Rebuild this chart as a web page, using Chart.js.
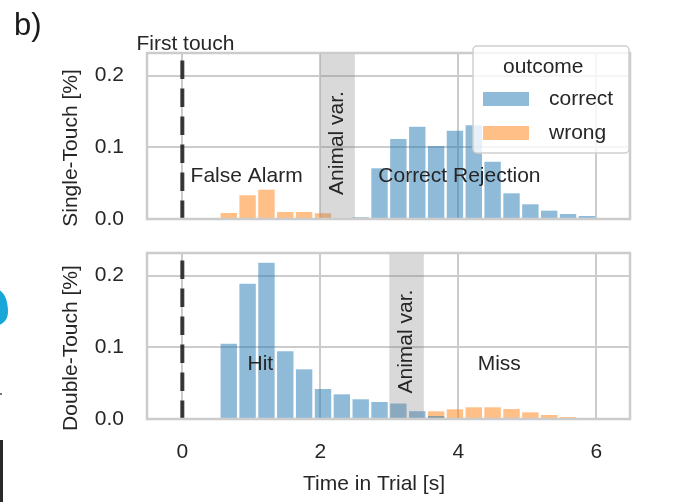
<!DOCTYPE html>
<html>
<head>
<meta charset="utf-8">
<script src="https://cdn.jsdelivr.net/npm/chart.js@4/dist/chart.umd.min.js"></script>
<style>
  html, body { margin: 0; padding: 0; background: #fff; }
  #wrap { position: relative; width: 679px; height: 502px; overflow: hidden; background: #fff; }
  #wrap canvas { position: absolute; left: 0; top: 0; }
  .tag { position: absolute; left: 14px; top: 9px; font: 31px/31px "Liberation Sans", Arial, sans-serif; color: #1a1a1a; }
  .blob { position: absolute; left: -13px; top: 290px; width: 21px; height: 35px; background: #19a6d8;
          border-radius: 50% 50% 50% 50% / 62% 62% 38% 38%; }
  .dot { position: absolute; left: 0; top: 393px; width: 2px; height: 2px; background: #777; }
  .edge { position: absolute; left: 0; top: 440px; width: 3px; height: 62px; background: #2a2a2a; }
</style>
</head>
<body>
<div id="wrap">
  <canvas id="single" width="679" height="502"></canvas>
  <canvas id="double" width="679" height="502"></canvas>
  <div class="tag">b)</div>
  <div class="blob"></div>
  <div class="dot"></div>
  <div class="edge"></div>
</div>
<script>
// Bin centres of the trial-time histogram [s], shared by both panels
const binCenters = [0.673, 0.946, 1.219, 1.492, 1.765, 2.039, 2.312, 2.585, 2.858, 3.131,
                    3.405, 3.678, 3.951, 4.224, 4.497, 4.771, 5.044, 5.317, 5.590, 5.863];

// Single-touch trials
const singleCorrect = [0, 0, 0, 0, 0, 0, 0, 0.0024, 0.0707, 0.1116,
                       0.1287, 0.1018, 0.1232, 0.1307, 0.0799, 0.0358, 0.0205, 0.0116, 0.0070, 0.0042];
const singleWrong   = [0.0084, 0.0331, 0.0409, 0.0098, 0.0098, 0.0080, 0, 0, 0, 0,
                       0, 0, 0, 0, 0, 0, 0, 0, 0, 0];

// Double-touch trials
const doubleCorrect = [0.105, 0.1887, 0.218, 0.0944, 0.0693, 0.0418, 0.0344, 0.0275, 0.0237, 0.0216,
                       0.0109, 0.0042, 0, 0, 0, 0, 0, 0, 0, 0];
const doubleWrong   = [0, 0, 0, 0, 0, 0, 0, 0, 0, 0,
                       0, 0.0107, 0.0135, 0.0163, 0.0163, 0.0139, 0.0093, 0.0056, 0.0028, 0.0014];

const outcomes = ['correct', 'wrong'];
const xTickValues = [0, 2, 4, 6];
const yTickValues = [0, 0.1, 0.2];
const yTickLabels = ['0.0', '0.1', '0.2'];

const singleBand = [2.0, 2.5];   // animal variability window, single touch
const doubleBand = [3.0, 3.5];   // animal variability window, double touch

const FONT_FAMILY = '"Liberation Sans", Arial, sans-serif';
const FONT_SIZE = 21;
const TEXT = '#262626';
const GRID = '#cccccc';
const BLUE = 'rgba(31,119,180,0.5)';
const ORANGE = 'rgba(255,127,14,0.5)';

Chart.defaults.font.family = FONT_FAMILY;
Chart.defaults.font.size = FONT_SIZE;
Chart.defaults.color = TEXT;

const toPoints = vals => binCenters.map((c, i) => ({ x: c, y: vals[i] }));

// Shaded window, first-touch marker, frame, axis titles and text notes
const decor = {
  id: 'decor',
  afterDatasetsDraw(chart, args, o) {
    const { ctx, chartArea: a, scales: { x, y } } = chart;
    ctx.save();
    const b0 = x.getPixelForValue(o.band[0]);
    const b1 = x.getPixelForValue(o.band[1]);
    ctx.fillStyle = 'rgba(128,128,128,0.3)';
    ctx.fillRect(b0, a.top, b1 - b0, a.bottom - a.top);

    const x0 = x.getPixelForValue(0);
    ctx.strokeStyle = 'rgba(25,25,25,0.85)';
    ctx.lineWidth = 4;
    ctx.setLineDash([18.5, 9.5]);
    ctx.beginPath();
    ctx.moveTo(x0, a.bottom);
    ctx.lineTo(x0, a.top);
    ctx.stroke();
    ctx.setLineDash([]);

    ctx.strokeStyle = GRID;
    ctx.lineWidth = 2.5;
    ctx.strokeRect(a.left, a.top, a.right - a.left, a.bottom - a.top);

    ctx.fillStyle = TEXT;
    ctx.font = FONT_SIZE + 'px ' + FONT_FAMILY;
    ctx.textAlign = 'left';
    ctx.textBaseline = 'alphabetic';
    for (const n of o.notes) {
      ctx.fillText(n.text, x.getPixelForValue(n.x), y.getPixelForValue(n.y));
    }
    ctx.textAlign = 'center';
    ctx.textBaseline = 'middle';
    if (o.xTitle) {
      ctx.fillText(o.xTitle, a.left + 227, a.bottom + 65);
    }
    // y-axis title, rotated
    ctx.save();
    ctx.translate(a.left - 76, (a.top + a.bottom) / 2 + 12);
    ctx.rotate(-Math.PI / 2);
    ctx.fillText(o.yTitle, 0, 0);
    ctx.restore();
    // label of the shaded window
    ctx.translate((b0 + b1) / 2, y.getPixelForValue(o.bandLabelY));
    ctx.rotate(-Math.PI / 2);
    ctx.fillText('Animal var.', 0, 0);
    ctx.restore();
  },
  afterDraw(chart, args, o) {
    if (!o.legend) return;
    const { ctx, chartArea: a } = chart;
    const w = 156, h = 107;
    const left = a.right - w - 1, top = a.top - 7;
    ctx.save();
    ctx.fillStyle = 'rgba(255,255,255,0.8)';
    ctx.strokeStyle = '#cfcfcf';
    ctx.lineWidth = 1.5;
    ctx.beginPath();
    ctx.roundRect(left, top, w, h, 4);
    ctx.fill();
    ctx.stroke();
    ctx.font = FONT_SIZE + 'px ' + FONT_FAMILY;
    ctx.fillStyle = TEXT;
    ctx.textAlign = 'left';
    ctx.textBaseline = 'alphabetic';
    ctx.fillText('outcome', left + 30, top + 27);
    chart.data.datasets.forEach((ds, i) => {
      const py = top + 46 + i * 34;
      ctx.fillStyle = ds.backgroundColor;
      ctx.fillRect(left + 10, py, 46, 14);
      ctx.fillStyle = TEXT;
      ctx.textBaseline = 'middle';
      ctx.fillText(ds.label, left + 76, py + 7);
    });
    ctx.restore();
  }
};

function panelOptions(opts) {
  return {
    responsive: false,
    animation: false,
    devicePixelRatio: 1,
    layout: { padding: opts.padding },
    datasets: { bar: { grouped: false, categoryPercentage: 1, barPercentage: 0.87 } },
    plugins: {
      legend: { display: false },
      tooltip: { enabled: false },
      decor: opts.decor
    },
    scales: {
      x: {
        type: 'linear',
        offset: false,
        min: -0.512,
        max: 6.488,
        afterBuildTicks: s => { s.ticks = xTickValues.map(v => ({ value: v })); },
        ticks: { display: opts.showX, padding: 21, color: TEXT, callback: v => String(v) },
        grid: { color: GRID, lineWidth: 2, drawTicks: false, offset: false },
        border: { display: false },
        afterFit: s => { s.height = opts.xHeight; }
      },
      y: {
        type: 'linear',
        min: 0,
        max: 0.2315,
        afterBuildTicks: s => { s.ticks = yTickValues.map(v => ({ value: v })); },
        ticks: { padding: 23, color: TEXT, callback: (v, i) => yTickLabels[i] },
        grid: { color: GRID, lineWidth: 2, drawTicks: false },
        border: { display: false },
        afterFit: s => { s.width = 147; }
      }
    }
  };
}

new Chart(document.getElementById('single'), {
  type: 'bar',
  data: {
    datasets: [
      { label: outcomes[0], data: toPoints(singleCorrect), backgroundColor: BLUE },
      { label: outcomes[1], data: toPoints(singleWrong), backgroundColor: ORANGE }
    ]
  },
  options: panelOptions({
    padding: { left: 0, right: 49, top: 53, bottom: 283 },
    showX: false,
    xHeight: 0,
    decor: {
      band: singleBand,
      bandLabelY: 0.106,
      legend: true,
      yTitle: 'Single-Touch [%]',
      notes: [
        { text: 'First touch', x: -0.665, y: 0.2357 },
        { text: 'False Alarm', x: 0.12, y: 0.052 },
        { text: 'Correct Rejection', x: 2.84, y: 0.052 }
      ]
    }
  }),
  plugins: [decor]
});

new Chart(document.getElementById('double'), {
  type: 'bar',
  data: {
    datasets: [
      { label: outcomes[0], data: toPoints(doubleCorrect), backgroundColor: BLUE },
      { label: outcomes[1], data: toPoints(doubleWrong), backgroundColor: ORANGE }
    ]
  },
  options: panelOptions({
    padding: { left: 0, right: 49, top: 253, bottom: 0 },
    showX: true,
    xHeight: 83,
    decor: {
      band: doubleBand,
      bandLabelY: 0.108,
      legend: false,
      yTitle: 'Double-Touch [%]',
      xTitle: 'Time in Trial [s]',
      notes: [
        { text: 'Hit', x: 0.945, y: 0.068 },
        { text: 'Miss', x: 4.28, y: 0.068 }
      ]
    }
  }),
  plugins: [decor]
});
</script>
</body>
</html>
